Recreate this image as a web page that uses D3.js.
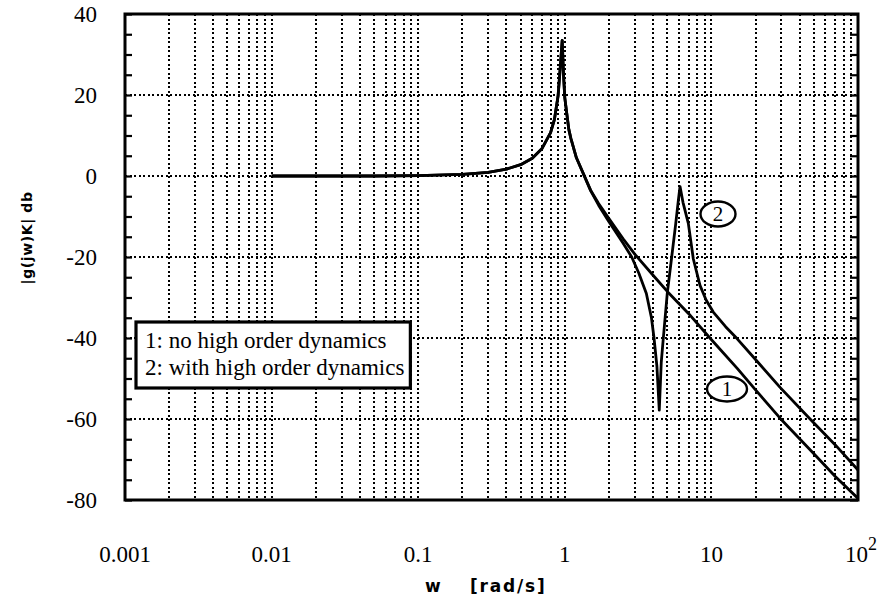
<!DOCTYPE html>
<html>
<head>
<meta charset="utf-8">
<script src="https://cdn.jsdelivr.net/npm/d3@7"></script>
<style>
  body { margin: 0; background: #fff; }
  svg { display: block; }
  .serif { font-family: "Liberation Serif", "Times New Roman", "DejaVu Serif", serif; }
  .sans { font-family: "DejaVu Sans", "Liberation Sans", sans-serif; font-weight: bold; }
</style>
</head>
<body>
<svg id="chart" width="878" height="597"></svg>
<script>
// Frequency axis ticks (rad/s) and magnitude axis ticks (dB)
const xTickValues = [0.001, 0.01, 0.1, 1, 10, 100];
const xTickLabels = ["0.001", "0.01", "0.1", "1", "10", "10"];
const yTickValues = [-80, -60, -40, -20, 0, 20, 40];
const yTickLabels = ["-80", "-60", "-40", "-20", "0", "20", "40"];

// Curve 1: no high order dynamics
const freq1 = [0.01, 0.05, 0.1, 0.2, 0.3, 0.4, 0.5, 0.6, 0.7, 0.8, 0.85, 0.9, 0.93, 0.96,
               0.98, 1.0, 1.065, 1.1, 1.2, 1.5, 1.7, 2, 2.5, 3, 4, 5, 7, 9.77, 15, 20, 29.4, 50, 70, 100];
const mag1  = [0, 0, 0.1, 0.4, 0.9, 1.7, 2.8, 4.4, 6.8, 10.7, 14.0, 19.8, 26.5, 33.5,
               25.0, 19.3, 11.5, 9.3, 4.5, -3.5, -6.8, -10.5, -15.5, -19.3, -24.5, -28.5, -34, -40, -47.5, -52.8, -59.8, -68.6, -74.2, -79.6];

// Curve 2: with high order dynamics
const freq2 = [0.01, 0.05, 0.1, 0.2, 0.3, 0.4, 0.5, 0.6, 0.7, 0.8, 0.85, 0.9, 0.93, 0.96,
               0.98, 1.0, 1.065, 1.1, 1.2, 1.5, 1.7, 2, 2.5, 2.86, 3.2, 3.6, 3.9, 4.06, 4.25, 4.41,
               4.55, 4.7, 5.0, 5.36, 5.7, 5.95, 6.11, 6.4, 6.96, 7.53, 8.36, 9.2, 10.3, 12.5, 15, 20, 29.4, 47.1, 70, 100];
const mag2  = [0, 0, 0.1, 0.4, 0.9, 1.7, 2.8, 4.4, 6.8, 10.7, 14.0, 19.8, 26.5, 33.5,
               25.0, 19.3, 11.5, 9.3, 4.5, -3.6, -7.2, -11.3, -16.6, -20, -24, -29, -35, -40, -47, -57.8,
               -46, -40, -29, -20, -12, -6, -2.6, -6.5, -11.7, -20.5, -27.0, -30.6, -33.6, -37.2, -40.2, -45.3, -52.2, -60, -66.4, -72.6];

const legendLines = ["1: no high order dynamics", "2: with high order dynamics"];

const svg = d3.select("#chart");
const plot = { left: 125, right: 858, top: 14, bottom: 500 };

const x = d3.scaleLog().domain([0.001, 100]).range([plot.left, plot.right]);
const y = d3.scaleLinear().domain([-80, 40]).range([plot.bottom, plot.top]);

// Vertical log grid: 1..9 in every decade
const vGrid = [];
for (let e = -3; e < 2; e++) {
  for (let m = 1; m <= 9; m++) {
    const v = m * Math.pow(10, e);
    if (v > 0.001 && v < 100) vGrid.push(v);
  }
}
svg.append("g").attr("class", "vgrid")
  .attr("shape-rendering", "crispEdges")
  .selectAll("line").data(vGrid).join("line")
  .attr("x1", d => Math.round(x(d))).attr("x2", d => Math.round(x(d)))
  .attr("y1", plot.top).attr("y2", plot.bottom)
  .attr("stroke", "#000").attr("stroke-width", 2)
  .attr("stroke-dasharray", "2 2.5");

// Horizontal grid every 20 dB
svg.append("g").attr("class", "hgrid")
  .attr("shape-rendering", "crispEdges")
  .selectAll("line").data(yTickValues.filter(v => v > -80 && v < 40)).join("line")
  .attr("x1", plot.left).attr("x2", plot.right)
  .attr("y1", d => Math.round(y(d))).attr("y2", d => Math.round(y(d)))
  .attr("stroke", "#000").attr("stroke-width", 2)
  .attr("stroke-dasharray", "2 2.5");

// Left and right axes with inward minor ticks every 5 dB
const leftAxis = d3.axisRight(y).tickValues(d3.range(-80, 41, 5)).tickSize(7).tickFormat("");
const rightAxis = d3.axisLeft(y).tickValues(d3.range(-80, 41, 5)).tickSize(8).tickFormat("");
const gl = svg.append("g").attr("transform", `translate(${plot.left},0)`).call(leftAxis);
const gr = svg.append("g").attr("transform", `translate(${plot.right},0)`).call(rightAxis);
[gl, gr].forEach(g => {
  g.select(".domain").remove();
  g.selectAll(".tick line").attr("stroke", "#000").attr("stroke-width", 2.2);
});

// Frame
svg.append("rect")
  .attr("x", plot.left).attr("y", plot.top)
  .attr("width", plot.right - plot.left).attr("height", plot.bottom - plot.top)
  .attr("fill", "none").attr("stroke", "#000").attr("stroke-width", 3);

// Y tick labels
svg.append("g").selectAll("text").data(yTickValues).join("text")
  .attr("class", "serif")
  .attr("x", 97).attr("y", d => y(d) + 8)
  .attr("text-anchor", "end")
  .style("font-size", "23px")
  .text((d, i) => yTickLabels[i]);

// X tick labels
const xl = svg.append("g").selectAll("text").data(xTickValues).join("text")
  .attr("class", "serif")
  .attr("x", d => x(d)).attr("y", 562)
  .attr("text-anchor", "middle")
  .style("font-size", "23px")
  .text((d, i) => xTickLabels[i]);
xl.filter(d => d === 100)
  .attr("x", x(100) - 13).attr("text-anchor", "start")
  .append("tspan").attr("dy", -12).style("font-size", "18px").text("2");

// Axis titles
svg.append("text")
  .attr("class", "sans")
  .attr("transform", "translate(32,238) rotate(-90)")
  .attr("text-anchor", "middle")
  .style("font-size", "14px")
  .attr("letter-spacing", 0.6)
  .text("|g(jw)K| db");
svg.append("text")
  .attr("class", "sans")
  .attr("x", 425).attr("y", 592)
  .style("font-size", "17px")
  .text("w");
svg.append("text")
  .attr("class", "sans")
  .attr("x", 470).attr("y", 592)
  .style("font-size", "17px")
  .attr("letter-spacing", 1.8)
  .text("[rad/s]");

// Response curves
const line = d3.line().x(d => x(d[0])).y(d => y(d[1]));
const series = [d3.zip(freq1, mag1), d3.zip(freq2, mag2)];
svg.append("g").selectAll("path").data(series).join("path")
  .attr("d", line)
  .attr("fill", "none").attr("stroke", "#000")
  .attr("stroke-width", 2.8).attr("stroke-linejoin", "round");

// Circled curve labels
const tags = [
  { label: "1", cx: 727, cy: 389, rx: 20, ry: 12.5 },
  { label: "2", cx: 718, cy: 214, rx: 17.5, ry: 12.5 }
];
const tg = svg.append("g").selectAll("g").data(tags).join("g");
tg.append("ellipse")
  .attr("cx", d => d.cx).attr("cy", d => d.cy)
  .attr("rx", d => d.rx).attr("ry", d => d.ry)
  .attr("fill", "#fff").attr("stroke", "#000").attr("stroke-width", 2.4);
tg.append("text")
  .attr("class", "serif")
  .attr("x", d => d.cx).attr("y", d => d.cy + 7)
  .attr("text-anchor", "middle")
  .style("font-size", "21px")
  .text(d => d.label);

// Legend box
const lg = svg.append("g");
const lrect = lg.append("rect")
  .attr("fill", "#fff").attr("stroke", "#000").attr("stroke-width", 3.2);
const ltext = lg.selectAll("text").data(legendLines).join("text")
  .attr("class", "serif")
  .attr("x", 145).attr("y", (d, i) => 348 + i * 27)
  .style("font-size", "23px")
  .text(d => d);
let maxW = 0;
ltext.each(function () { maxW = Math.max(maxW, this.getComputedTextLength()); });
lrect.attr("x", 136).attr("y", 322).attr("width", maxW + 15).attr("height", 66);
</script>
</body>
</html>
